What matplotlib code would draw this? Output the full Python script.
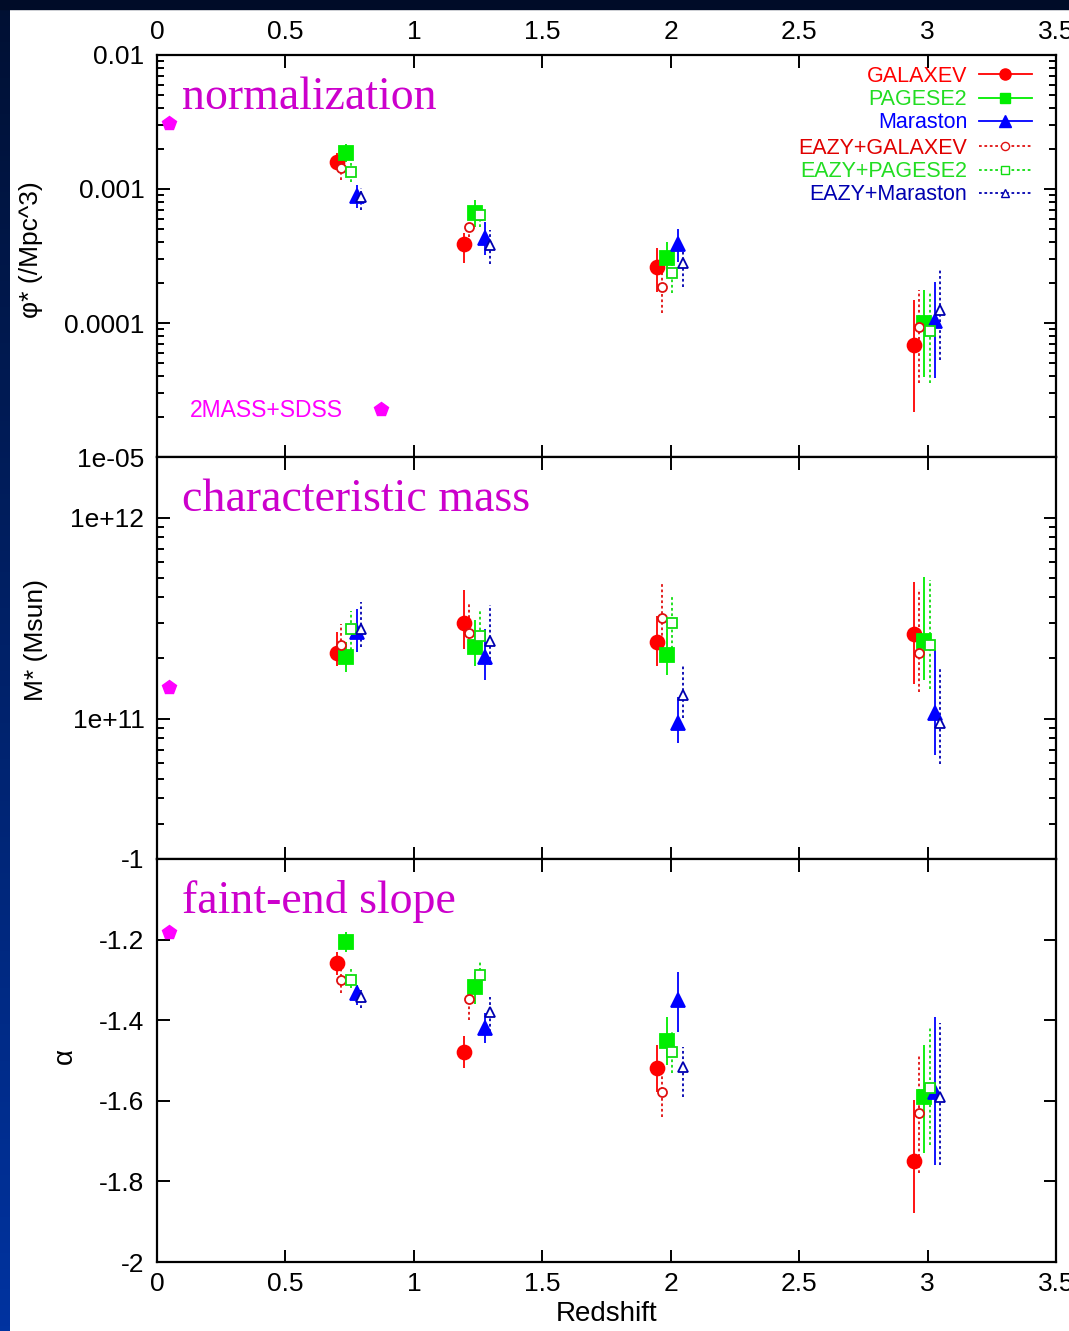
import numpy as np
import matplotlib
matplotlib.use('Agg')
import matplotlib.pyplot as plt
from matplotlib.lines import Line2D
from matplotlib.patches import Rectangle

plt.rcParams['font.family'] = ['Liberation Sans Narrow', 'Liberation Sans', 'DejaVu Sans']

# redshift of each bin, per model (shifted a little so the bars don't overlap)
z_galaxev = [0.700, 1.195, 1.946, 2.946]
z_eazy_galaxev = [0.717, 1.214, 1.965, 2.965]
z_pegase = [0.737, 1.237, 1.985, 2.988]
z_eazy_pegase = [0.755, 1.257, 2.005, 3.008]
z_maraston = [0.777, 1.277, 2.027, 3.028]
z_eazy_maraston = [0.795, 1.296, 2.047, 3.050]
z_local = [0.045]

# normalization phi* (/Mpc^3) with lower / upper ends of the bars
phi_galaxev = [1.59e-3, 3.89e-4, 2.61e-4, 6.85e-5]
phi_galaxev_lo = [1.39e-3, 2.81e-4, 1.71e-4, 2.18e-5]
phi_galaxev_hi = [1.86e-3, 4.70e-4, 3.61e-4, 1.49e-4]
phi_eazy_galaxev = [1.44e-3, 5.18e-4, 1.85e-4, 9.37e-5]
phi_eazy_galaxev_lo = [1.17e-3, 4.40e-4, 1.18e-4, 3.55e-5]
phi_eazy_galaxev_hi = [1.56e-3, 5.70e-4, 2.49e-4, 1.76e-4]
phi_pegase = [1.87e-3, 6.65e-4, 3.04e-4, 9.95e-5]
phi_pegase_lo = [1.60e-3, 5.23e-4, 2.22e-4, 3.98e-5]
phi_pegase_hi = [2.17e-3, 8.28e-4, 4.05e-4, 1.76e-4]
phi_eazy_pegase = [1.34e-3, 6.40e-4, 2.37e-4, 8.77e-5]
phi_eazy_pegase_lo = [1.13e-3, 5.23e-4, 1.67e-4, 3.55e-5]
phi_eazy_pegase_hi = [1.60e-3, 6.97e-4, 2.80e-4, 1.67e-4]
phi_maraston = [8.87e-4, 4.33e-4, 3.89e-4, 1.04e-4]
phi_maraston_lo = [7.21e-4, 3.21e-4, 2.86e-4, 3.86e-5]
phi_maraston_hi = [1.07e-3, 5.70e-4, 5.00e-4, 2.03e-4]
phi_eazy_maraston = [8.77e-4, 3.82e-4, 2.79e-4, 1.26e-4]
phi_eazy_maraston_lo = [6.97e-4, 2.76e-4, 1.87e-4, 5.30e-5]
phi_eazy_maraston_hi = [1.02e-3, 4.94e-4, 3.61e-4, 2.49e-4]
phi_local = [3.1e-3]

# characteristic mass M* (Msun)
m_galaxev = [2.12e11, 2.99e11, 2.40e11, 2.62e11]
m_galaxev_lo = [1.82e11, 2.22e11, 1.82e11, 1.49e11]
m_galaxev_hi = [2.69e11, 4.34e11, 3.25e11, 4.75e11]
m_eazy_galaxev = [2.33e11, 2.67e11, 3.17e11, 2.12e11]
m_eazy_galaxev_lo = [2.14e11, 2.31e11, 2.44e11, 1.35e11]
m_eazy_galaxev_hi = [2.96e11, 3.72e11, 4.68e11, 4.42e11]
m_pegase = [2.03e11, 2.26e11, 2.08e11, 2.43e11]
m_pegase_lo = [1.70e11, 1.82e11, 1.64e11, 1.55e11]
m_pegase_hi = [2.40e11, 3.08e11, 2.79e11, 5.08e11]
m_eazy_pegase = [2.79e11, 2.57e11, 2.98e11, 2.33e11]
m_eazy_pegase_lo = [2.18e11, 2.14e11, 2.10e11, 1.41e11]
m_eazy_pegase_hi = [3.44e11, 3.44e11, 4.04e11, 4.86e11]
m_maraston = [2.69e11, 2.02e11, 9.49e10, 1.06e11]
m_maraston_lo = [2.14e11, 1.55e11, 7.54e10, 6.62e10]
m_maraston_hi = [3.52e11, 2.79e11, 1.28e11, 2.18e11]
m_eazy_maraston = [2.79e11, 2.43e11, 1.31e11, 9.53e10]
m_eazy_maraston_lo = [2.26e11, 1.84e11, 1.01e11, 5.96e10]
m_eazy_maraston_hi = [3.79e11, 3.65e11, 1.82e11, 1.77e11]
m_local = [1.43e11]

# faint-end slope alpha
a_galaxev = [-1.259, -1.480, -1.519, -1.749]
a_galaxev_lo = [-1.288, -1.519, -1.577, -1.878]
a_galaxev_hi = [-1.230, -1.439, -1.462, -1.598]
a_eazy_galaxev = [-1.301, -1.348, -1.579, -1.630]
a_eazy_galaxev_lo = [-1.333, -1.400, -1.639, -1.780]
a_eazy_galaxev_hi = [-1.275, -1.333, -1.536, -1.486]
a_pegase = [-1.207, -1.318, -1.451, -1.590]
a_pegase_lo = [-1.230, -1.360, -1.511, -1.730]
a_pegase_hi = [-1.180, -1.280, -1.391, -1.462]
a_eazy_pegase = [-1.300, -1.288, -1.480, -1.569]
a_eazy_pegase_lo = [-1.321, -1.317, -1.532, -1.710]
a_eazy_pegase_hi = [-1.267, -1.251, -1.429, -1.420]
a_maraston = [-1.333, -1.420, -1.350, -1.579]
a_maraston_lo = [-1.362, -1.457, -1.429, -1.759]
a_maraston_hi = [-1.313, -1.383, -1.280, -1.391]
a_eazy_maraston = [-1.342, -1.379, -1.517, -1.590]
a_eazy_maraston_lo = [-1.370, -1.429, -1.590, -1.759]
a_eazy_maraston_hi = [-1.325, -1.342, -1.466, -1.408]
a_local = [-1.18]

names = ['GALAXEV', 'PAGESE2', 'Maraston', 'EAZY+GALAXEV', 'EAZY+PAGESE2', 'EAZY+Maraston']
zs = [z_galaxev, z_pegase, z_maraston, z_eazy_galaxev, z_eazy_pegase, z_eazy_maraston]

# colour, marker, size, filled?, linestyle
styles = [
    ('#ff0000', 'o', 10, True, '-'),
    ('#00ee00', 's', 9.5, True, '-'),
    ('#0000ff', '^', 10, True, '-'),
    ('#e01010', 'o', 6.5, False, ':'),
    ('#10dd10', 's', 6.5, False, ':'),
    ('#0000b0', '^', 6.5, False, ':'),
]
text_colors = ['#ff0000', '#22dd22', '#0000ff', '#e00000', '#22dd22', '#0000b0']
magenta = '#ff00ff'
title_magenta = '#cc00cc'

panels = [
    ([phi_galaxev, phi_pegase, phi_maraston, phi_eazy_galaxev, phi_eazy_pegase, phi_eazy_maraston],
     [phi_galaxev_lo, phi_pegase_lo, phi_maraston_lo, phi_eazy_galaxev_lo, phi_eazy_pegase_lo, phi_eazy_maraston_lo],
     [phi_galaxev_hi, phi_pegase_hi, phi_maraston_hi, phi_eazy_galaxev_hi, phi_eazy_pegase_hi, phi_eazy_maraston_hi],
     phi_local),
    ([m_galaxev, m_pegase, m_maraston, m_eazy_galaxev, m_eazy_pegase, m_eazy_maraston],
     [m_galaxev_lo, m_pegase_lo, m_maraston_lo, m_eazy_galaxev_lo, m_eazy_pegase_lo, m_eazy_maraston_lo],
     [m_galaxev_hi, m_pegase_hi, m_maraston_hi, m_eazy_galaxev_hi, m_eazy_pegase_hi, m_eazy_maraston_hi],
     m_local),
    ([a_galaxev, a_pegase, a_maraston, a_eazy_galaxev, a_eazy_pegase, a_eazy_maraston],
     [a_galaxev_lo, a_pegase_lo, a_maraston_lo, a_eazy_galaxev_lo, a_eazy_pegase_lo, a_eazy_maraston_lo],
     [a_galaxev_hi, a_pegase_hi, a_maraston_hi, a_eazy_galaxev_hi, a_eazy_pegase_hi, a_eazy_maraston_hi],
     a_local),
]

fig = plt.figure(figsize=(10.69, 13.31), dpi=100, facecolor='white')

# dark frame: band on top, blue gradient down the left side
grad = fig.add_axes([0, 0, 10 / 1069, 1])
top_col = np.array([0x01, 0x10, 0x33]) / 255
bot_col = np.array([0x00, 0x33, 0xa0]) / 255
t = np.linspace(0, 1, 256)[:, None]
grad.imshow((top_col * (1 - t) + bot_col * t)[:, None, :], aspect='auto')
grad.axis('off')
fig.add_artist(Rectangle((0, 1 - 9 / 1331), 1, 9 / 1331, transform=fig.transFigure,
                         color='#000c28', zorder=10))

W, H = 1069, 1331
left, right = 157 / W, 1056 / W
edges = [55, 457, 859, 1262]
axes = []
for i in range(3):
    b = 1 - edges[i + 1] / H
    h = (edges[i + 1] - edges[i]) / H
    axes.append(fig.add_axes([left, b, right - left, h]))

for ax, (vals, los, his, local) in zip(axes, panels):
    for k in range(6):
        col, mk, ms, filled, ls = styles[k]
        v = np.array(vals[k]); lo = np.array(los[k]); hi = np.array(his[k])
        eb = ax.errorbar(zs[k], v, yerr=[v - lo, hi - v], fmt=mk, color=col,
                         ms=ms, mfc=col if filled else 'white', mec=col,
                         mew=1.3, elinewidth=1.3, capsize=0)
        if ls == ':':
            eb[2][0].set_linestyle((0, (1.5, 1.5)))
    ax.plot(z_local, local, 'p', color=magenta, ms=10)

    ax.set_xlim(0, 3.5)
    ax.set_xticks(np.arange(0, 3.51, 0.5))
    ax.set_xticklabels(['0', '0.5', '1', '1.5', '2', '2.5', '3', '3.5'])
    ax.tick_params(which='both', direction='in', top=True, right=True, width=1.4,
                   labelsize=19, colors='black')
    ax.tick_params(which='major', length=9)
    ax.tick_params(which='minor', length=5)
    ax.tick_params(axis='y', pad=9)
    for sp in ax.spines.values():
        sp.set_linewidth(1.6)

ax1, ax2, ax3 = axes

ax1.set_yscale('log')
ax1.set_ylim(1e-5, 1e-2)
ax1.set_yticks([1e-5, 1e-4, 1e-3, 1e-2])
ax1.set_yticklabels(['1e-05', '0.0001', '0.001', '0.01'])
ax1.tick_params(axis='x', labeltop=True, labelbottom=False, pad=8)
ax1.set_ylabel('φ* (/Mpc^3)', fontsize=19)
ax1.yaxis.set_label_coords(-0.127, 0.515)

ax2.set_yscale('log')
ax2.set_ylim(2e10, 2e12)
ax2.set_yticks([1e11, 1e12])
ax2.set_yticklabels(['1e+11', '1e+12'])
ax2.yaxis.set_minor_formatter(plt.NullFormatter())
ax2.tick_params(axis='x', labelbottom=False)
ax2.set_ylabel('M* (Msun)', fontsize=19)
ax2.yaxis.set_label_coords(-0.121, 0.545)

ax3.set_ylim(-2, -1)
ax3.set_yticks([-2, -1.8, -1.6, -1.4, -1.2, -1])
ax3.set_yticklabels(['-2', '-1.8', '-1.6', '-1.4', '-1.2', '-1'])
ax3.tick_params(axis='x', pad=7)
ax3.set_xlabel('Redshift', fontsize=20, labelpad=4)
ax3.set_ylabel('α', fontsize=20)
ax3.yaxis.set_label_coords(-0.088, 0.51)

for ax, title in zip(axes, ['normalization', 'characteristic mass', 'faint-end slope']):
    ax.text(0.028, 0.865, title, transform=ax.transAxes, fontsize=33,
            family=['Liberation Serif', 'DejaVu Serif'], color=title_magenta, va='baseline')

# key for the model series, in two blocks
def handle(k):
    col, mk, ms, filled, ls = styles[k]
    return Line2D([], [], color=col, ls='-' if ls == '-' else (0, (1.5, 1.5)), lw=1.3,
                  marker=mk, ms=ms * 0.8 if filled else ms * 0.9,
                  mfc=col if filled else 'white', mec=col)

common = dict(frameon=False, markerfirst=False, fontsize=15.5, handlelength=2.45,
              handletextpad=0.55, labelspacing=0.1, borderpad=0, borderaxespad=0,
              numpoints=1)
leg1 = ax1.legend([handle(k) for k in range(3)], names[:3], loc='upper right',
                  bbox_to_anchor=(0.973, 0.9726), labelcolor=text_colors[:3], **common)
ax1.add_artist(leg1)
leg2 = ax1.legend([handle(k) for k in range(3, 6)], names[3:], loc='upper right',
                  bbox_to_anchor=(0.973, 0.7935), labelcolor=text_colors[3:], **common)
ax1.add_artist(leg2)
local_handle = Line2D([], [], ls='none', marker='p', color=magenta, ms=10)
ax1.legend([local_handle], ['2MASS+SDSS'], loc='lower left', bbox_to_anchor=(0.0367, 0.087),
           labelcolor=[magenta], frameon=False, markerfirst=False, fontsize=16.5,
           handlelength=2.5, handletextpad=0.4, borderpad=0, borderaxespad=0)

fig.savefig('out.png', dpi=100, facecolor='white')
